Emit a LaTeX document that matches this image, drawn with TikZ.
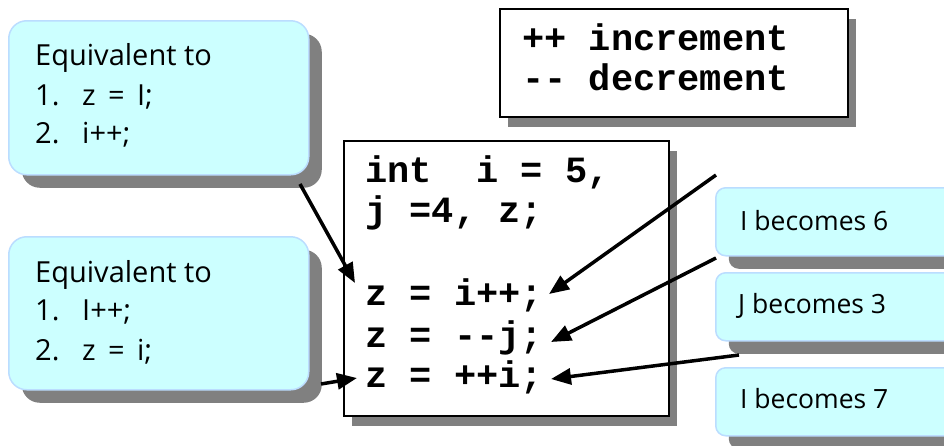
\documentclass[tikz,border=0pt]{standalone}
\usepackage{fontspec}
\usetikzlibrary{arrows.meta,shadows}
\newfontfamily\handfont{Open Sans}
\newfontfamily\codefont{Liberation Mono}
\definecolor{calloutfill}{HTML}{CCFFFF}
\definecolor{calloutdraw}{HTML}{BBDDFF}
\definecolor{shadowgray}{HTML}{808080}
\begin{document}
\begin{tikzpicture}[x=1pt,y=-1pt,
  callout/.style={draw=calloutdraw, line width=1.5pt, fill=calloutfill, rounded corners=18pt,
    anchor=north west, inner sep=0pt,
    drop shadow={shadow xshift=13pt, shadow yshift=-13pt, fill=shadowgray, opacity=1}},
  smallcallout/.style={callout, rounded corners=10pt},
  codebox/.style={draw=black, line width=1.5pt, fill=white, anchor=north west, inner sep=0pt,
    drop shadow={shadow xshift=8pt, shadow yshift=-10pt, fill=shadowgray, opacity=1}},
  hand/.style={font=\handfont\fontsize{29}{34}\selectfont, anchor=base west, inner sep=0pt},
  smallhand/.style={hand, font=\handfont\fontsize{26.5}{30}\selectfont},
  code/.style={font=\codefont\bfseries\fontsize{37}{40}\selectfont, anchor=base west, inner sep=0pt},
  arrow/.style={line width=3.5pt, -{Triangle[length=20pt,width=16pt]}}]
\useasboundingbox (0,0) rectangle (944,445);
\fill[white] (0,0) rectangle (944,445);
% boxes
\node[callout, minimum width=300pt, minimum height=154pt] (eqA) at (8,20) {};
\node[callout, minimum width=300pt, minimum height=153pt] (eqB) at (8,236) {};
\node[codebox, minimum width=348pt, minimum height=108pt] (legend) at (499,8) {};
\node[codebox, minimum width=325pt, minimum height=275pt] (code) at (343,140) {};
\node[smallcallout, minimum width=260pt, minimum height=68pt] (becA) at (715,187) {};
\node[smallcallout, minimum width=260pt, minimum height=68pt] (becB) at (715,272) {};
\node[smallcallout, minimum width=260pt, minimum height=68pt] (becC) at (715,367) {};
% callout texts
\node[hand] (eqAt) at (35,65) {Equivalent to};
\node[hand] (eqAn1) at (35,105) {1.};
\node[hand] (eqAl1) at (82,105) {z \,=\, I;};
\node[hand] (eqAn2) at (35,143) {2.};
\node[hand] (eqAl2) at (82,143) {i++;};
\node[hand] (eqBt) at (35,282) {Equivalent to};
\node[hand] (eqBn1) at (35,320) {1.};
\node[hand] (eqBl1) at (82,320) {I++;};
\node[hand] (eqBn2) at (35,360) {2.};
\node[hand] (eqBl2) at (82,360) {z \,=\, i;};
\node[smallhand] (becAt) at (740,230) {I becomes 6};
\node[smallhand] (becBt) at (738,313) {J becomes 3};
\node[smallhand] (becCt) at (740,408) {I becomes 7};
% legend text
\node[code] (inc) at (522,50) {++ increment};
\node[code] (dec) at (522,90) {-{}- decrement};
% code text
\node[code] (c1) at (365,182) {int\ \ i = 5,};
\node[code] (c2) at (365,222) {j =4, z;};
\node[code] (c3) at (365,305) {z = i++;};
\node[code] (c4) at (365,347) {z = -{}-j;};
\node[code] (c5) at (365,387) {z = ++i;};
% arrow ends
\coordinate (s1) at (300,184);
\coordinate (t1) at (355,283);
\coordinate (s2) at (321,384);
\coordinate (t2) at (357,378);
\coordinate (s3) at (716,175);
\coordinate (t3) at (549,294);
\coordinate (s4) at (716,258);
\coordinate (t4) at (551,342);
\coordinate (s5) at (739,355);
\coordinate (t5) at (551,379);
\draw[arrow] (s1) -- (t1);
\draw[arrow] (s2) -- (t2);
\draw[arrow] (s3) -- (t3);
\draw[arrow] (s4) -- (t4);
\draw[arrow] (s5) -- (t5);
\end{tikzpicture}
\end{document}
